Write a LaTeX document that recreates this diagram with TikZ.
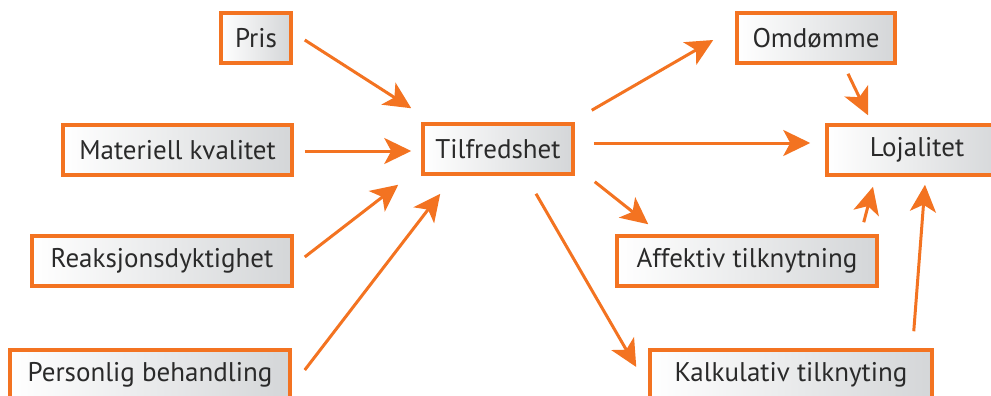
\documentclass[tikz,border=0pt]{standalone}
\usepackage{fontspec}
\setmainfont{PT Sans}
\usetikzlibrary{arrows.meta,calc}
\definecolor{org}{HTML}{F37321}
\definecolor{txt}{HTML}{2A2A2A}
\definecolor{shd}{HTML}{D4D6D8}
\tikzset{
  box/.style={draw=org, line width=3.5pt, left color=white, right color=shd,
    minimum height=50pt, inner sep=0pt, text=txt, font=\fontsize{27}{30}\selectfont},
  conn/.style={draw=org, line width=3pt, -{Stealth[length=27pt,width=26pt,inset=7pt]}}
}
\begin{document}
\begin{tikzpicture}[x=1pt,y=-1pt]
\useasboundingbox (0,0) rectangle (991,396);
\clip (0,0) rectangle (991,396);
\node[box, minimum width=70pt] (pris) at (256,38) {Pris};
\node[box, minimum width=229pt] (mat) at (177.5,150) {Materiell kvalitet};
\node[box, minimum width=260pt] (reak) at (162,261) {Reaksjonsdyktighet};
\node[box, minimum width=280pt] (pers) at (150,375) {Personlig behandling};
\node[box, minimum width=150pt] (tilf) at (498,149) {Tilfredshet};
\node[box, minimum width=158pt] (omd) at (816,38) {Omdømme};
\node[box, minimum width=180pt] (loj) at (917,150) {Lojalitet};
\node[box, minimum width=260pt] (aff) at (747,261) {Affektiv tilknytning};
\node[box, minimum width=282pt] (kalk) at (791,375) {Kalkulativ tilknyting};

\draw[conn] ($(pris.east)+(12,2)$) -- ($(tilf.north west)+(-10,-14)$);
\draw[conn] ($(mat.east)+(11,1)$) -- ($(tilf.west)+(-10,2)$);
\draw[conn] ($(reak.east)+(11,-4)$) -- ($(tilf.south west)+(-23,9)$);
\draw[conn] ($(pers.east)+(13,-5)$) -- ($(tilf.south west)+(19,18)$);
\draw[conn] ($(tilf.north east)+(17,-12)$) -- ($(omd.west)+(-22,2)$);
\draw[conn] ($(tilf.east)+(19,-6)$) -- ($(loj.west)+(-15,-7)$);
\draw[conn] ($(tilf.south east)+(20,6)$) -- ($(aff.north west)+(33,-10)$);
\draw[conn] ($(tilf.south)+(38,18)$) -- ($(kalk.west)+(-12,-8)$);
\draw[conn] ($(omd.south)+(32,9)$) -- ($(loj.north)+(-49,-8)$);
\draw[conn] ($(aff.north east)+(-15,-12)$) -- ($(loj.south)+(-44,10)$);
\draw[conn] ($(kalk.north east)+(-20,-17)$) -- ($(loj.south)+(8,8)$);
\end{tikzpicture}
\end{document}
